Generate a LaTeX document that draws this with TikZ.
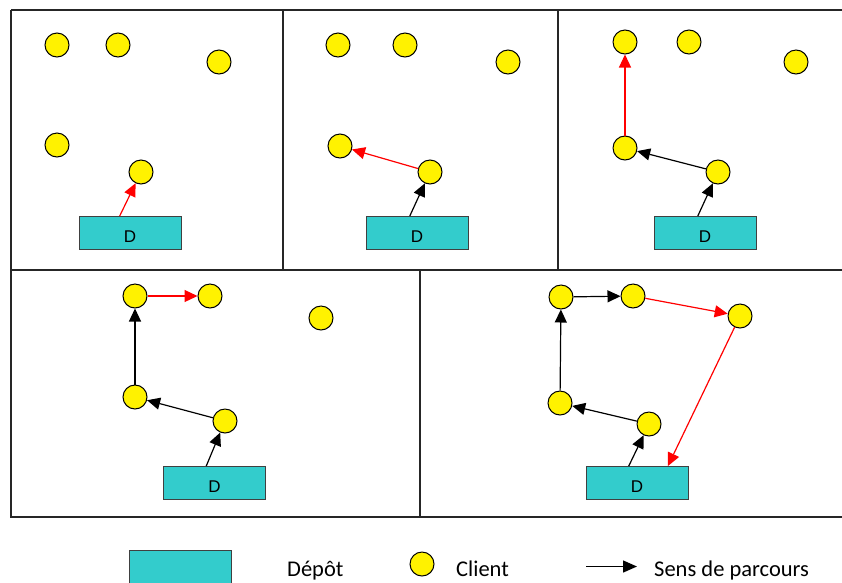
\documentclass[tikz,border=0pt]{standalone}
\usepackage{fontspec}
\setmainfont{Carlito}
\newfontfamily\arialf{Liberation Sans}
\usetikzlibrary{arrows.meta,calc}
\definecolor{depotc}{HTML}{33CCCC}
\tikzset{
 client/.style={circle,draw=black,fill=yellow,line width=1pt,minimum size=24pt,inner sep=0pt},
 depot/.style={rectangle,draw=black!75,fill=depotc,line width=1pt,minimum width=102pt,minimum height=33pt,inner sep=0pt,text height=19.5pt,text depth=0pt,font=\arialf\fontsize{17}{17}\selectfont},
 route/.style={line width=1.2pt,-{Triangle[length=13pt,width=12pt]}},
 newr/.style={route,red},
 legarrow/.style={line width=1.3pt,-{Triangle[length=14pt,width=12pt]}},
 frame/.style={line width=1.6pt,black!85},
 legtext/.style={anchor=base west,inner sep=0pt,font=\fontsize{22.5}{22.5}\selectfont}
}
\begin{document}
\begin{tikzpicture}[x=1pt,y=-1pt]
\useasboundingbox (0,0) rectangle (842,582);
% frames
\draw[frame] (11,10) -- (842,10);
\draw[frame] (11,10) -- (11,270) -- (842,270);
\draw[frame] (283,10) -- (283,270);
\draw[frame] (558,10) -- (558,270);
\draw[frame] (11,270) -- (11,517) -- (842,517);
\draw[frame] (420,270) -- (420,517);
% panel 1
\node[client] (c11) at (57,45) {};
\node[client] (c12) at (118,45) {};
\node[client] (c13) at (219,62) {};
\node[client] (c14) at (57,145) {};
\node[client] (c15) at (141,172) {};
\node[depot] (d1) at (130,233) {D};
\coordinate (s1) at ($(d1.north west)!0.40!(d1.north east)$);
\draw[newr] (s1) -- (c15);
% panel 2
\node[client] (c21) at (338,45) {};
\node[client] (c22) at (405,45) {};
\node[client] (c23) at (508,62) {};
\node[client] (c24) at (340,146) {};
\node[client] (c25) at (430,172) {};
\node[depot] (d2) at (417,233) {D};
\coordinate (s2) at ($(d2.north west)!0.43!(d2.north east)$);
\draw[route] (s2) -- (c25);
\draw[newr] (c25) -- (c24);
% panel 3
\node[client] (c31) at (625,42) {};
\node[client] (c32) at (689,42) {};
\node[client] (c33) at (796,62) {};
\node[client] (c34) at (625,148) {};
\node[client] (c35) at (718,172) {};
\node[depot] (d3) at (705,233) {D};
\coordinate (s3) at ($(d3.north west)!0.43!(d3.north east)$);
\draw[route] (s3) -- (c35);
\draw[route] (c35) -- (c34);
\draw[newr] (c34) -- (c31);
% panel 4
\node[client] (c41) at (135,296) {};
\node[client] (c42) at (210,296) {};
\node[client] (c43) at (321,318) {};
\node[client] (c44) at (135,397) {};
\node[client] (c45) at (225,421) {};
\node[depot] (d4) at (214.5,483) {D};
\coordinate (s4) at ($(d4.north west)!0.42!(d4.north east)$);
\draw[route] (s4) -- (c45);
\draw[route] (c45) -- (c44);
\draw[route] (c44) -- (c41);
\draw[newr] (c41) -- (c42);
% panel 5
\node[client] (c51) at (561,297) {};
\node[client] (c52) at (633,296) {};
\node[client] (c53) at (740,316) {};
\node[client] (c54) at (560,403) {};
\node[client] (c55) at (649,424) {};
\node[depot] (d5) at (637,483) {D};
\coordinate (s5) at ($(d5.north west)!0.42!(d5.north east)$);
\coordinate (e5) at ($(d5.north west)!0.80!(d5.north east)$);
\draw[route] (s5) -- (c55);
\draw[route] (c55) -- (c54);
\draw[route] (c54) -- (c51);
\draw[route] (c51) -- (c52);
\draw[newr] (c52) -- (c53);
\draw[newr] (c53) -- (e5);
% legend
\node[depot] (ld) at (180.5,566.5) {};
\node[legtext] (ldt) at (287,576) {Dépôt};
\node[client] (lc) at (422,564) {};
\node[legtext] (lct) at (456,576) {Client};
\coordinate (la1) at (586,566.5);
\coordinate (la2) at (637,566.5);
\draw[legarrow] (la1) -- (la2);
\node[legtext] (lat) at (654,576) {Sens de parcours};
\end{tikzpicture}
\end{document}
